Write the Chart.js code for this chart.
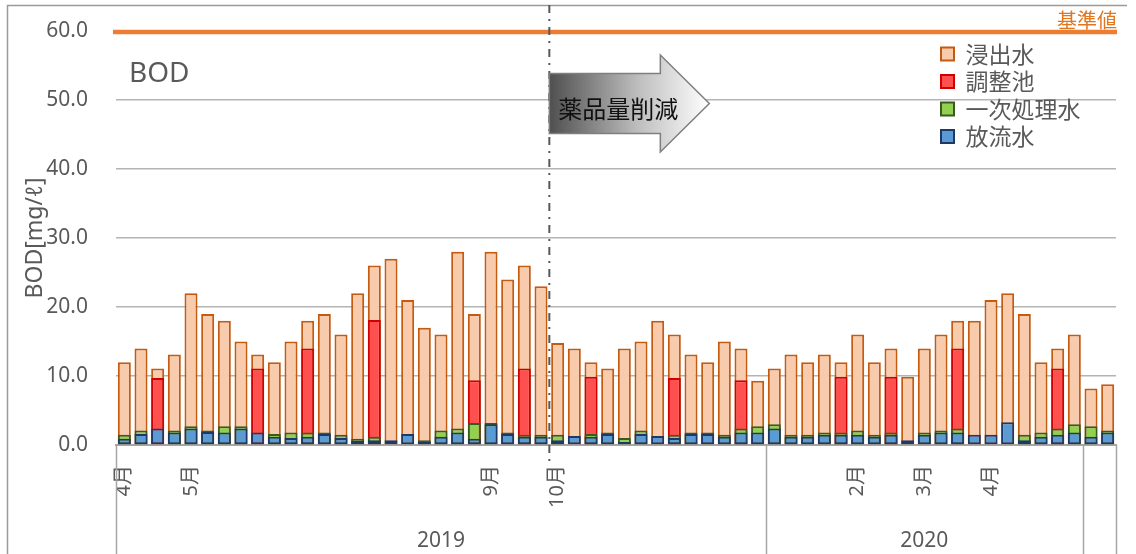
<!DOCTYPE html>
<html lang="ja">
<head>
<meta charset="utf-8">
<title>BOD</title>
<script src="https://cdn.jsdelivr.net/npm/chart.js@4.4.1/dist/chart.umd.min.js"></script>
<style>
  html, body { margin: 0; padding: 0; background: #ffffff; }
  canvas { display: block; }
</style>
</head>
<body>
<canvas id="chart" width="1136" height="554"></canvas>
<script>
// Month tick labels (one slot per weekly sample)
const monthLabels = [
  '4月', '', '', '', '5月', '', '', '', '', '',
  '', '', '', '', '', '', '', '', '', '',
  '', '', '9月', '', '', '', '10月', '', '', '',
  '', '', '', '', '', '', '', '', '', '',
  '', '', '', '', '2月', '', '', '', '3月', '',
  '', '', '4月', '', '', '', '', '', '', ''
];

// Year groups on the second axis row: label and first sample index
const yearLabels = ['2019', '2020', ''];
const yearStarts = [0, 39, 58];

// BOD [mg/ℓ]
const leachate = [ // 浸出水
  12, 14, 11.1, 13.1, 22, 19, 18, 15, 13.1, 12,
  15, 18, 19, 16, 22, 26, 27, 21, 17, 16,
  28, 19, 28, 24, 26, 23, 14.8, 14, 12, 11.1,
  14, 15, 18, 16, 13.1, 12, 15, 14, 9.3, 11.1,
  13.1, 12, 13.1, 12, 16, 12, 14, 9.9, 14, 16,
  18, 18, 21, 22, 19, 12, 14, 16, 8.2, 8.8
];
const pond = [ // 調整池
  null, null, 9.7, null, null, null, null, null, 11.1, null,
  null, 14, null, null, null, 18.1, null, null, null, null,
  null, 9.4, null, null, 11.1, null, null, null, 9.9, null,
  null, null, null, 9.7, null, null, null, 9.4, null, null,
  null, null, null, 9.9, null, null, 9.9, null, null, null,
  14, null, null, null, null, null, 11.1, null, null, null
];
const primary = [ // 一次処理水
  1.5, 2.1, null, 2.1, 2.7, 2.1, 2.7, 2.7, null, 1.6,
  1.8, 1.8, 1.8, 1.5, 0.9, 1.2, null, null, 0.7, 2.1,
  2.4, 3.2, 3.2, 1.8, 1.5, 1.5, 1.5, null, 1.6, 1.8,
  1.0, 2.1, null, 1.5, 1.8, 1.8, 1.5, 2.4, 2.7, 3.0,
  1.5, 1.5, 1.8, 1.8, 2.1, 1.5, 1.8, null, 1.8, 2.1,
  2.4, null, null, null, 1.5, 1.8, 2.4, 3.0, 2.7, 2.1
];
const effluent = [ // 放流水
  0.9, 1.6, 2.4, 1.8, 2.4, 1.9, 1.8, 2.4, 1.8, 1.2,
  1.0, 1.2, 1.6, 1.0, 0.6, 0.7, 0.7, 1.6, 0.45, 1.2,
  1.8, 0.9, 3.0, 1.6, 1.2, 1.2, 0.7, 1.3, 1.2, 1.6,
  0.45, 1.6, 1.3, 1.0, 1.6, 1.6, 1.2, 1.8, 1.8, 2.4,
  1.2, 1.2, 1.5, 1.5, 1.5, 1.2, 1.5, 0.7, 1.5, 1.8,
  1.8, 1.5, 1.5, 3.3, 0.7, 1.2, 1.5, 1.8, 1.2, 1.8
];

const STANDARD = 60;          // 基準値
const REDUCTION_START = 26;   // first sample after 薬品量削減
const ARROW_LEVEL = 49.5;     // vertical centre of the arrow, in axis units

const GREY_TEXT = '#595959';
const LATIN = "'Noto Sans', 'Noto Sans CJK JP', sans-serif";
const CJK = "'Noto Sans CJK JP', 'Noto Sans', sans-serif";

// Decorations: frame, standard line, reduction marker, arrow, group axis row
const decor = {
  id: 'decor',
  afterLayout(chart) {
    const lg = chart.legend;
    if (lg) {
      lg.left = 936.5; lg.top = 38;
      lg.right = 1132; lg.bottom = 170;
      lg.width = lg.right - lg.left;
      lg.height = lg.bottom - lg.top;
    }
  },
  beforeDraw(chart) {
    const ctx = chart.ctx;
    ctx.save();
    ctx.strokeStyle = '#9a9a9a';
    ctx.lineWidth = 1.5;
    ctx.beginPath();
    ctx.moveTo(7.5, chart.height);
    ctx.lineTo(7.5, 5.5);
    ctx.lineTo(1127, 5.5);
    ctx.stroke();
    ctx.restore();
  },
  afterDatasetsDraw(chart) {
    const ctx = chart.ctx;
    const xs = chart.scales.x, ys = chart.scales.y;
    const area = chart.chartArea;
    const catW = xs.getPixelForValue(1) - xs.getPixelForValue(0);

    // standard value line
    const yStd = ys.getPixelForValue(STANDARD);
    ctx.save();
    ctx.strokeStyle = '#ED7D31';
    ctx.lineWidth = 4.5;
    ctx.beginPath();
    ctx.moveTo(area.left - 3, yStd + 1);
    ctx.lineTo(area.right + 1, yStd + 1);
    ctx.stroke();
    ctx.fillStyle = '#E2761F';
    ctx.font = '20px ' + CJK;
    ctx.textAlign = 'right';
    ctx.textBaseline = 'alphabetic';
    ctx.fillText('基準値', area.right + 1, yStd - 3);

    // chart title
    ctx.fillStyle = GREY_TEXT;
    ctx.font = '28px ' + LATIN;
    ctx.textAlign = 'left';
    ctx.fillText('BOD', 129, 82);

    // reduction start marker
    const xCut = xs.getPixelForValue(REDUCTION_START) - catW / 2;
    ctx.strokeStyle = '#595959';
    ctx.lineWidth = 2;
    ctx.setLineDash([8, 6, 2, 6]);
    ctx.beginPath();
    ctx.moveTo(xCut, 5);
    ctx.lineTo(xCut, area.bottom + 16);
    ctx.stroke();
    ctx.setLineDash([]);

    // block arrow
    const cy = ys.getPixelForValue(ARROW_LEVEL);
    const x0 = xCut, xHead = xCut + 111, xTip = xCut + 160;
    const bodyH = 30, headH = 48.5;
    const grad = ctx.createLinearGradient(x0, 0, xTip, 0);
    grad.addColorStop(0, '#4f4f4f');
    grad.addColorStop(0.55, '#bdbdbd');
    grad.addColorStop(1, '#ffffff');
    ctx.beginPath();
    ctx.moveTo(x0, cy - bodyH);
    ctx.lineTo(xHead, cy - bodyH);
    ctx.lineTo(xHead, cy - headH);
    ctx.lineTo(xTip, cy);
    ctx.lineTo(xHead, cy + headH);
    ctx.lineTo(xHead, cy + bodyH);
    ctx.lineTo(x0, cy + bodyH);
    ctx.closePath();
    ctx.fillStyle = grad;
    ctx.fill();
    ctx.strokeStyle = '#7f7f7f';
    ctx.lineWidth = 1.5;
    ctx.stroke();
    ctx.fillStyle = '#111111';
    ctx.font = '24px ' + CJK;
    ctx.textAlign = 'left';
    ctx.textBaseline = 'middle';
    ctx.fillText('薬品量削減', x0 + 9, cy + 5);
    ctx.restore();
  },
  afterDraw(chart) {
    const ctx = chart.ctx;
    const xs = chart.scales.x;
    const area = chart.chartArea;
    const n = monthLabels.length;
    const catW = xs.getPixelForValue(1) - xs.getPixelForValue(0);
    const edge = i => xs.getPixelForValue(0) - catW / 2 + i * catW;
    const bounds = yearStarts.concat([n]);
    ctx.save();
    ctx.strokeStyle = '#a6a6a6';
    ctx.lineWidth = 1.5;
    bounds.forEach(b => {
      const x = Math.round(edge(b)) + 0.5;
      ctx.beginPath();
      ctx.moveTo(x, area.bottom);
      ctx.lineTo(x, chart.height);
      ctx.stroke();
    });
    ctx.fillStyle = GREY_TEXT;
    ctx.font = '21px ' + LATIN;
    ctx.textAlign = 'center';
    ctx.textBaseline = 'middle';
    yearLabels.forEach((lab, k) => {
      const xc = (edge(bounds[k]) + edge(bounds[k + 1])) / 2;
      ctx.fillText(lab, xc, 541);
    });
    ctx.restore();
  }
};

const barBase = { borderWidth: 2, borderSkipped: false, grouped: false, categoryPercentage: 1, barPercentage: 0.78 };

new Chart(document.getElementById('chart'), {
  type: 'bar',
  data: {
    labels: monthLabels,
    datasets: [
      Object.assign({ label: '放流水', data: effluent, backgroundColor: '#5B9BD5', borderColor: '#1F3864' }, barBase),
      Object.assign({ label: '一次処理水', data: primary, backgroundColor: '#92D050', borderColor: '#3A5A22' }, barBase),
      Object.assign({ label: '調整池', data: pond, backgroundColor: '#FF5050', borderColor: '#D00000' }, barBase),
      Object.assign({ label: '浸出水', data: leachate, backgroundColor: '#F8CBAD', borderColor: '#C55A11' }, barBase)
    ]
  },
  options: {
    responsive: false,
    animation: false,
    devicePixelRatio: 1,
    layout: { padding: { top: 31, right: 20, bottom: 0, left: 0 } },
    plugins: {
      legend: {
        position: 'chartArea',
        align: 'start',
        reverse: true,
        labels: {
          boxWidth: 13, boxHeight: 13, padding: 4.5,
          color: GREY_TEXT,
          font: { family: CJK, size: 23 }
        }
      },
      tooltip: { enabled: false }
    },
    scales: {
      x: {
        grid: { display: false, drawTicks: false },
        border: { display: true, color: '#a6a6a6', width: 2 },
        ticks: {
          autoSkip: false, minRotation: 90, maxRotation: 90, padding: 20,
          color: GREY_TEXT, font: { family: LATIN, size: 20 }
        },
        afterFit(s) { s.height = 109; s.paddingLeft = 0; s.paddingRight = 0; }
      },
      y: {
        min: 0, max: 60,
        grid: { color: '#b4b4b4', lineWidth: 1.5, drawTicks: false },
        border: { display: false },
        ticks: {
          stepSize: 10, padding: 28,
          color: GREY_TEXT, font: { family: LATIN, size: 21 },
          callback: v => Number(v).toFixed(1)
        },
        title: {
          display: true, text: 'BOD[mg/ℓ]', color: GREY_TEXT,
          font: { family: LATIN, size: 23 },
          padding: { top: 22, bottom: 0 }
        },
        afterFit(s) { s.width = 116; s.paddingTop = 0; s.paddingBottom = 0; }
      }
    }
  },
  plugins: [decor]
});
</script>
</body>
</html>
